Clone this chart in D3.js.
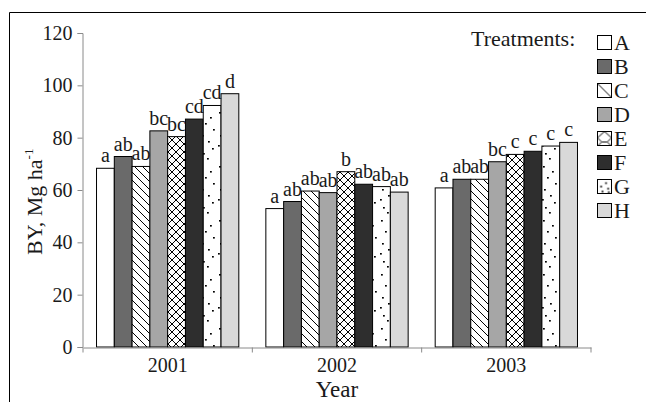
<!DOCTYPE html>
<html>
<head>
<meta charset="utf-8">
<script src="https://cdn.jsdelivr.net/npm/d3@7"></script>
<style>
  html, body { margin: 0; padding: 0; background: #fff; }
  svg { display: block; font-family: "Liberation Serif", "Times New Roman", serif; }
</style>
</head>
<body>
<svg id="chart" width="646" height="402"></svg>
<script>
// ---- data ----
const years = ["2001", "2002", "2003"];
const treatments = ["A", "B", "C", "D", "E", "F", "G", "H"];
const values2001 = [68.3, 72.8, 69.0, 82.6, 80.4, 87.1, 92.3, 96.8];
const values2002 = [52.9, 55.6, 59.6, 59.0, 67.0, 62.2, 61.3, 59.2];
const values2003 = [60.8, 64.1, 64.1, 70.8, 73.6, 74.8, 76.8, 78.2];
const letters2001 = ["a", "ab", "ab", "bc", "bc", "cd", "cd", "d"];
const letters2002 = ["a", "ab", "ab", "ab", "b", "ab", "ab", "ab"];
const letters2003 = ["a", "ab", "ab", "bc", "c", "c", "c", "c"];
const yTicks = [0, 20, 40, 60, 80, 100, 120];

const seriesValues = [values2001, values2002, values2003];
const seriesLetters = [letters2001, letters2002, letters2003];
const rows = [];
years.forEach((yr, i) => treatments.forEach((t, j) => rows.push({
  year: yr, t: t, v: seriesValues[i][j], lab: seriesLetters[i][j]
})));

// ---- setup ----
const svg = d3.select("#chart");
const defs = svg.append("defs");

// hatch "\" pattern
const pC = defs.append("pattern").attr("id", "patC").attr("patternUnits", "userSpaceOnUse")
  .attr("width", 8).attr("height", 8);
pC.append("rect").attr("width", 8).attr("height", 8).attr("fill", "#fff");
pC.append("path").attr("d", "M-1,-1 L9,9 M-1,7 L1,9 M7,-1 L9,1").attr("stroke", "#000").attr("stroke-width", 1);

// cross hatch
const pE = defs.append("pattern").attr("id", "patE").attr("patternUnits", "userSpaceOnUse")
  .attr("width", 8).attr("height", 8);
pE.append("rect").attr("width", 8).attr("height", 8).attr("fill", "#fff");
pE.append("path").attr("d", "M-1,-1 L9,9 M-1,7 L1,9 M7,-1 L9,1 M9,-1 L-1,9 M1,-1 L-1,1 M9,7 L7,9")
  .attr("stroke", "#000").attr("stroke-width", 1);

// sparse dots
const pG = defs.append("pattern").attr("id", "patG").attr("patternUnits", "userSpaceOnUse")
  .attr("width", 18).attr("height", 54);
pG.append("rect").attr("width", 18).attr("height", 54).attr("fill", "#fff");
[[3,4],[12,9],[7,15],[15,21],[4,27],[10,33],[14,40],[5,45],[9,50],[2,37]].forEach(d =>
  pG.append("rect").attr("x", d[0]).attr("y", d[1]).attr("width", 1.8).attr("height", 1.6).attr("fill", "#000"));

// legend patterns
const lC = defs.append("pattern").attr("id", "legC").attr("patternUnits", "objectBoundingBox")
  .attr("width", 1).attr("height", 1).attr("patternContentUnits", "objectBoundingBox");
lC.append("rect").attr("width", 1).attr("height", 1).attr("fill", "#fff");
lC.append("path").attr("d", "M0,0 L1,1").attr("stroke", "#000").attr("stroke-width", 0.07);
const lE = defs.append("pattern").attr("id", "legE").attr("patternUnits", "objectBoundingBox")
  .attr("width", 1).attr("height", 1).attr("patternContentUnits", "objectBoundingBox");
lE.append("rect").attr("width", 1).attr("height", 1).attr("fill", "#fff");
lE.append("path").attr("d", "M0,0.45 L0.5,0 L1,0.45 M0,0.45 L0.3,0.75 L0.7,0.75 L1,0.45 M0.3,0.75 L0.05,1 M0.7,0.75 L0.95,1")
  .attr("stroke", "#000").attr("stroke-width", 0.07).attr("fill", "none");
const lG = defs.append("pattern").attr("id", "legG").attr("patternUnits", "objectBoundingBox")
  .attr("width", 1).attr("height", 1).attr("patternContentUnits", "objectBoundingBox");
lG.append("rect").attr("width", 1).attr("height", 1).attr("fill", "#fff");
[[0.55,0.2],[0.2,0.45],[0.7,0.6],[0.3,0.8],[0.75,0.85]].forEach(d =>
  lG.append("rect").attr("x", d[0]).attr("y", d[1]).attr("width", 0.12).attr("height", 0.12).attr("fill", "#000"));

const fills = {A: "#ffffff", B: "#6a6a6a", C: "url(#patC)", D: "#a6a6a6",
               E: "url(#patE)", F: "#2e2e2e", G: "url(#patG)", H: "#d9d9d9"};
const legFills = Object.assign({}, fills, {C: "url(#legC)", E: "url(#legE)", G: "url(#legG)"});

// frame
svg.append("path").attr("d", "M9.5,402 L9.5,12.5 L646,12.5").attr("fill", "none").attr("stroke", "#000").attr("stroke-width", 1);

// scales
const x0 = d3.scaleBand().domain(years).range([83, 591]).padding(0);
const x1 = d3.scaleBand().domain(treatments).range([0, x0.bandwidth()]).paddingInner(0).paddingOuter(0.76);
const y = d3.scaleLinear().domain([0, 120]).range([347, 33]);

// bars
const g = svg.append("g");
g.selectAll("rect.bar").data(rows).join("rect")
  .attr("class", "bar")
  .attr("x", d => x0(d.year) + x1(d.t))
  .attr("y", d => y(d.v))
  .attr("width", x1.bandwidth())
  .attr("height", d => y(0) - y(d.v))
  .attr("fill", d => fills[d.t])
  .attr("stroke", "#000")
  .attr("stroke-width", 1);

// bar letters
g.selectAll("text.lab").data(rows).join("text")
  .attr("class", "lab")
  .attr("x", d => x0(d.year) + x1(d.t) + x1.bandwidth() / 2)
  .attr("y", d => y(d.v) - 6)
  .attr("text-anchor", "middle")
  .attr("font-size", 20)
  .attr("fill", "#1a1a1a")
  .text(d => d.lab);

// y axis
const yAxis = svg.append("g").attr("transform", "translate(82.5,0)")
  .call(d3.axisLeft(y).tickValues(yTicks).tickSize(5).tickPadding(5));
yAxis.selectAll("path, line").attr("stroke", "#8a8a8a");
yAxis.selectAll("text").attr("font-size", 20).attr("font-family", "Liberation Serif").attr("fill", "#1a1a1a");

// x axis
const xAxis = svg.append("g").attr("transform", "translate(0,347.5)")
  .call(d3.axisBottom(x0).tickSize(0).tickPadding(10));
xAxis.select("path").attr("stroke", "#8a8a8a");
xAxis.selectAll("text").attr("font-size", 20).attr("font-family", "Liberation Serif").attr("fill", "#1a1a1a");
// category boundary ticks
const bounds = years.map(yr => x0(yr)).concat([x0(years[years.length - 1]) + x0.bandwidth()]);
xAxis.selectAll("line.bound").data(bounds).join("line").attr("class", "bound")
  .attr("x1", d => d).attr("x2", d => d).attr("y1", 0).attr("y2", 5)
  .attr("stroke", "#8a8a8a");

// axis titles
svg.append("text").attr("x", 337).attr("y", 397).attr("text-anchor", "middle")
  .attr("font-size", 23).attr("fill", "#1a1a1a").text("Year");
const yt = svg.append("text").attr("transform", "translate(42,255) rotate(-90)")
  .attr("font-size", 22).attr("fill", "#1a1a1a");
yt.append("tspan").text("BY,  Mg ha");
yt.append("tspan").attr("font-size", 13).attr("dy", -9).text("-1");

// legend
svg.append("text").attr("x", 471).attr("y", 46).attr("font-size", 22).attr("fill", "#1a1a1a").text("Treatments:");
const leg = svg.append("g");
const legY = d3.scaleBand().domain(treatments).range([35, 227]);
treatments.forEach(t => {
  leg.append("rect").attr("x", 597.5).attr("y", legY(t) + 0.5).attr("width", 14).attr("height", 14)
    .attr("fill", legFills[t]).attr("stroke", "#000").attr("stroke-width", 1);
  leg.append("text").attr("x", 614).attr("y", legY(t) + 15).attr("font-size", 22)
    .attr("fill", "#1a1a1a").text(t);
});
</script>
</body>
</html>
